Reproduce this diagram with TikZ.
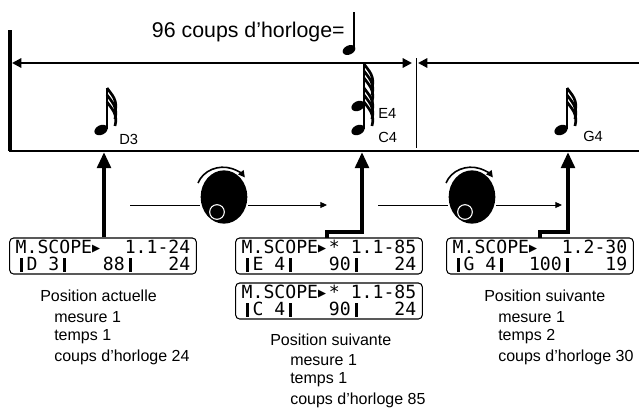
\documentclass[tikz,border=0pt]{standalone}
\usepackage{fontspec}
\setmainfont{Liberation Sans}
\newfontfamily\lcdfont{DejaVu Sans Mono}
\usetikzlibrary{arrows.meta}
\newcommand{\bb}{\makebox[0.6em][c]{\rule[-1pt]{2.2pt}{10pt}}}
\newcommand{\tri}{\makebox[0.6em][l]{\raisebox{1pt}{\fontsize{10}{10}\selectfont ▶}}}
\tikzset{
 lcd/.style={draw,line width=0.8pt,rounded corners=3pt,minimum width=140pt,minimum height=27pt,inner sep=1pt,font=\lcdfont\fontsize{13.6}{12.5}\selectfont,align=left},
 txt/.style={font=\fontsize{12}{14}\selectfont,anchor=west,inner sep=0},
 big/.style={line width=3.4pt,-{Triangle[length=12pt,width=10pt]}},
 thin/.style={line width=0.7pt,-{Triangle[length=5pt,width=4.5pt]}},
 dimarr/.style={line width=1.6pt,-{Triangle[length=7pt,width=7pt]}},
 notestyle/.pic={
   \fill[rotate=25] (0,0) ellipse (5.2pt and 3.6pt);
   \draw[line width=1.2pt] (6,-1.5) -- (6,-42);
   \foreach \k in {0,7,14}{\draw[line width=2pt] (6,-42+\k) .. controls (11,-35+\k) and (17,-30+\k) .. (14,-18+\k);}
 },
 knobarrow/.style={line width=1.2pt,-{Triangle[length=5pt,width=5pt]}},
}
\begin{document}
\begin{tikzpicture}[x=0.75pt,y=-0.75pt]
\useasboundingbox (0,0) rectangle (639,414);
% top structure
\draw[line width=2.5pt] (10,30) -- (10,151);
\coordinate (L) at (12,63); \coordinate (M) at (412,63); \coordinate (R) at (639,63); \coordinate (M2) at (418,63);
\draw[dimarr,{Triangle[length=7pt,width=7pt]}-{Triangle[length=7pt,width=7pt]}] (L) -- (M);
\draw[dimarr] (R) -- (M2);
\draw[line width=0.5pt] (416,58) -- (416,148);
\draw[line width=1pt] (9,151) -- (639,151);
\node[font=\fontsize{16}{18}\selectfont,anchor=east,inner sep=0] (title) at (345,32) {96 coups d'horloge=};
\fill[rotate around={25:(349,50)}] (349,50) ellipse (5pt and 3.4pt);
\draw[line width=1.1pt] (354,48) -- (354,12);
% notes
\pic at (101,130) {notestyle};
\node[txt,font=\fontsize{11}{12}\selectfont] (d3) at (119,139) {D3};
\pic at (358,106) {notestyle};
\pic at (358,130) {notestyle};
\node[txt,font=\fontsize{11}{12}\selectfont] (e4) at (378,113) {E4};
\node[txt,font=\fontsize{11}{12}\selectfont] (c4) at (378,137) {C4};
\pic at (561,130) {notestyle};
\node[txt,font=\fontsize{11}{12}\selectfont] (g4) at (583,136) {G4};
% LCDs
\node[lcd] (l1) at (103,256) {M.SCOPE\tri\ \ 1.1-24\\\bb D 3\bb\ \ \ 88\bb\ \ \ 24};
\node[lcd] (l2) at (329,256) {M.SCOPE\tri*\ 1.1-85\\\bb E 4\bb\ \ \ 90\bb\ \ \ 24};
\node[lcd] (l3) at (329,301) {M.SCOPE\tri*\ 1.1-85\\\bb C 4\bb\ \ \ 90\bb\ \ \ 24};
\node[lcd] (l4) at (540,256) {M.SCOPE\tri\ \ 1.2-30\\\bb G 4\bb\ \ 100\bb\ \ \ 19};
% arrows up
\coordinate (a1) at (104,152); \coordinate (a2) at (362,152); \coordinate (a3) at (568,152);
\draw[big] (l1.north -| a1) -- (a1);
\draw[big] (327,237.5) -- (327,232) -- (362,232) -- (a2);
\draw[big] (540,237.5) -- (540,232) -- (568,232) -- (a3);
% knobs
\foreach \cx in {224,472}{
  \fill (\cx,197) ellipse (17.5pt and 20pt);
  \draw[white,line width=0.8pt] (\cx-7,212) circle (5.5pt);
  \draw[knobarrow] (\cx-26,183) arc[start angle=160,end angle=35,x radius=20pt,y radius=18pt];
}
\node[inner sep=0] (k1) at (224,197) {};
\node[inner sep=0] (k2) at (472,197) {};
\draw[line width=0.7pt] (130,205) -- (200,205);
\draw[thin] (248,205) -- (327,205);
\draw[line width=0.7pt] (378,205) -- (448,205);
\draw[thin] (496,205) -- (562,205);
% texts
\node[txt] (p1) at (40,296) {Position actuelle};
\node[txt] (p1a) at (54,317) {mesure 1};
\node[txt] (p1b) at (54,337) {temps 1};
\node[txt] (p1c) at (54,357) {coups d'horloge 24};
\node[txt] (p2) at (270,340) {Position suivante};
\node[txt] (p2a) at (290,360) {mesure 1};
\node[txt] (p2b) at (290,380) {temps 1};
\node[txt] (p2c) at (290,400) {coups d'horloge 85};
\node[txt] (p3) at (484,296) {Position suivante};
\node[txt] (p3a) at (498,317) {mesure 1};
\node[txt] (p3b) at (498,337) {temps 2};
\node[txt] (p3c) at (498,357) {coups d'horloge 30};
\end{tikzpicture}
\end{document}
